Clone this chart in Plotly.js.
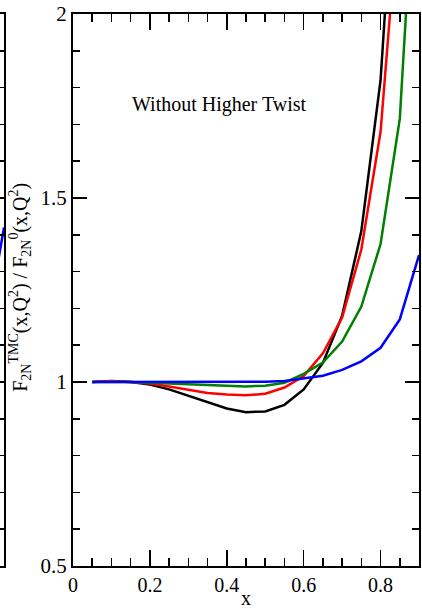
<!DOCTYPE html>
<html>
<head>
<meta charset="utf-8">
<script src="https://cdn.plot.ly/plotly-3.0.1.min.js"></script>
<style>
  html, body { margin: 0; padding: 0; background: #fff; }
  #chart { width: 422px; height: 609px; }
</style>
</head>
<body>
<div id="chart"></div>
<script>
// Ratio of the target-mass-corrected F2 to the uncorrected F2, no higher twist
const xGrid = [0.05, 0.10, 0.15, 0.20, 0.25, 0.30, 0.35, 0.40, 0.45, 0.50,
               0.55, 0.60, 0.65, 0.70, 0.75, 0.80, 0.85, 0.90];

const ratioBlack = [1.000, 1.003, 1.000, 0.993, 0.980, 0.963, 0.945, 0.928, 0.918, 0.920,
                    0.938, 0.980, 1.052, 1.180, 1.410, 1.820, 2.620, null];
const ratioRed   = [1.000, 1.002, 1.000, 0.996, 0.988, 0.978, 0.970, 0.966, 0.964, 0.968,
                    0.985, 1.016, 1.078, 1.175, 1.360, 1.680, 2.330, null];
const ratioGreen = [1.000, 1.001, 1.000, 0.998, 0.996, 0.993, 0.990, 0.989, 0.988, 0.990,
                    0.998, 1.022, 1.053, 1.110, 1.205, 1.375, 1.715, 2.600];
const ratioBlue  = [1.000, 1.000, 1.000, 1.000, 1.000, 1.000, 1.000, 1.000, 1.000, 1.001,
                    1.003, 1.009, 1.017, 1.033, 1.056, 1.093, 1.170, 1.345];

// Right edge of the neighbouring panel (only its last few pixels show)
const sideX = [0.88, 0.90];
const sideBlue = [1.30, 1.42];

const seriesColors = ['#000000', '#ff0000', '#008000', '#0000ff'];
const seriesValues = [ratioBlack, ratioRed, ratioGreen, ratioBlue];

const serif = '"Liberation Serif", "Times New Roman", serif';
const W = 419;   // paper width (page width minus right margin)

const traces = seriesValues.map((vals, i) => ({
  x: xGrid, y: vals, type: 'scatter', mode: 'lines',
  line: { color: seriesColors[i], width: 2.5 },
  xaxis: 'x', yaxis: 'y', connectgaps: false, hoverinfo: 'skip'
}));
traces.push({
  x: sideX, y: sideBlue, type: 'scatter', mode: 'lines',
  line: { color: '#0000ff', width: 2.5 },
  xaxis: 'x2', yaxis: 'y2', hoverinfo: 'skip'
});

const layout = {
  width: 422, height: 609,
  margin: { l: 0, r: 3, t: 14, b: 43 },
  paper_bgcolor: '#ffffff', plot_bgcolor: '#ffffff',
  showlegend: false,
  font: { family: serif, color: '#000', size: 20 },
  xaxis: {
    domain: [73 / W, 1], range: [0, 0.9], anchor: 'y',
    showgrid: false, zeroline: false,
    showline: true, linewidth: 2, linecolor: '#000', mirror: 'allticks',
    ticks: 'inside', ticklen: 16, tickwidth: 1.5, tickcolor: '#000',
    dtick: 0.2, tick0: 0,
    minor: { dtick: 0.05, tick0: 0, ticks: 'inside', ticklen: 8, tickwidth: 1.5, tickcolor: '#000', showgrid: false },
    tickfont: { family: serif, size: 20, color: '#000' }
  },
  yaxis: {
    domain: [0, 1], range: [0.5, 2], anchor: 'x',
    showgrid: false, zeroline: false,
    showline: true, linewidth: 2, linecolor: '#000', mirror: 'allticks',
    ticks: 'inside', ticklen: 14, tickwidth: 1.5, tickcolor: '#000',
    dtick: 0.5, tick0: 0.5,
    minor: { dtick: 0.1, tick0: 0.5, ticks: 'inside', ticklen: 7, tickwidth: 1.5, tickcolor: '#000', showgrid: false },
    tickfont: { family: serif, size: 21, color: '#000' }
  },
  xaxis2: {
    domain: [0, 4 / W], range: [0.8896, 0.9], anchor: 'y2',
    showgrid: false, zeroline: false, showticklabels: false,
    showline: true, linewidth: 2, linecolor: '#000', mirror: true, ticks: ''
  },
  yaxis2: {
    domain: [0, 1], range: [0.5, 2], anchor: 'x2', side: 'right',
    showgrid: false, zeroline: false, showticklabels: false,
    showline: true, linewidth: 2, linecolor: '#000',
    ticks: 'inside', ticklen: 6, tickwidth: 1.5, tickcolor: '#000', dtick: 0.1, tick0: 0.5
  },
  annotations: [
    {
      text: 'Without Higher Twist', xref: 'x', yref: 'y', x: 0.381, y: 1.753,
      showarrow: false, xanchor: 'center', yanchor: 'middle',
      font: { family: serif, size: 20, color: '#000' }
    },
    {
      text: 'x', xref: 'x', yref: 'paper', x: 0.451, y: -0.058,
      showarrow: false, xanchor: 'center', yanchor: 'middle',
      font: { family: serif, size: 20, color: '#000' }
    },
    {
      text: 'F<sub>2N</sub><sup>TMC</sup>(x,Q<sup>2</sup>) / F<sub>2N</sub><sup>0</sup>(x,Q<sup>2</sup>)',
      xref: 'paper', yref: 'paper', x: 20 / W, y: 0.504, textangle: -90,
      showarrow: false, xanchor: 'center', yanchor: 'middle',
      font: { family: serif, size: 20, color: '#000' }
    }
  ]
};

Plotly.newPlot('chart', traces, layout, { staticPlot: true, displayModeBar: false });
</script>
</body>
</html>
